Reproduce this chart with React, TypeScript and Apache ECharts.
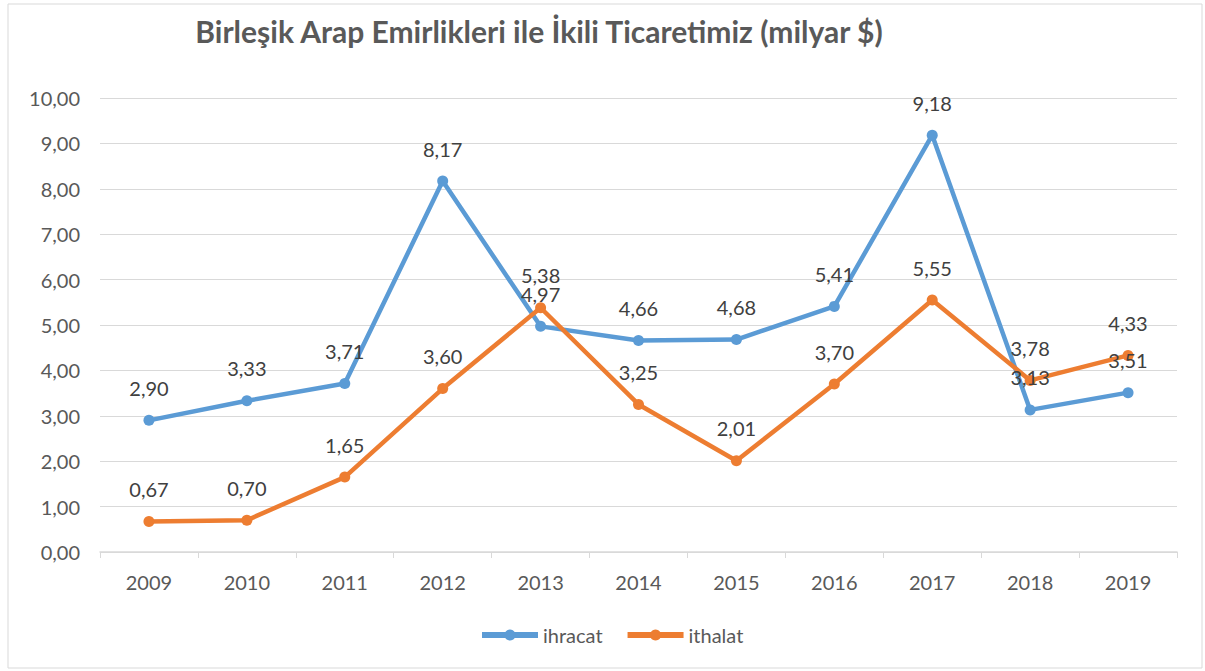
import React, { useEffect, useRef } from "react";
import * as echarts from "echarts";

const years = ["2009", "2010", "2011", "2012", "2013", "2014", "2015", "2016", "2017", "2018", "2019"];
const ihracat = [2.9, 3.33, 3.71, 8.17, 4.97, 4.66, 4.68, 5.41, 9.18, 3.13, 3.51];
const ithalat = [0.67, 0.7, 1.65, 3.6, 5.38, 3.25, 2.01, 3.7, 5.55, 3.78, 4.33];
const titleText = "Birleşik Arap Emirlikleri ile İkili Ticaretimiz (milyar $)";

const fmt = (v: number) => v.toFixed(2).replace(".", ",");
const FONT = "Lato, 'Open Sans', sans-serif";

export default function App() {
  const ref = useRef<HTMLDivElement>(null);
  useEffect(() => {
    if (!ref.current) return;
    const chart = echarts.init(ref.current, null, { renderer: "svg" });
    const mkSeries = (name: string, data: number[], color: string) => ({
      name,
      type: "line",
      data,
      symbol: "circle",
      symbolSize: 11,
      itemStyle: { color },
      lineStyle: { color, width: 4.5 },
      label: {
        show: true,
        position: "top",
        distance: 17,
        formatter: (p: any) => fmt(p.value),
        color: "#404040",
        fontSize: 20,
        fontFamily: FONT,
      },
    });
    chart.setOption({
      animation: false,
      backgroundColor: "#fff",
      title: {
        text: titleText,
        left: 534,
        top: 11,
        textAlign: "center",
        textStyle: { color: "#595959", fontSize: 30, fontWeight: "bold", fontFamily: FONT },
      },
      legend: {
        bottom: 21,
        left: 474,
        itemWidth: 56,
        itemHeight: 14,
        itemGap: 22,
        lineStyle: { width: 6 },
        textStyle: { color: "#595959", fontSize: 20, fontFamily: FONT },
        data: ["ihracat", "ithalat"],
      },
      grid: { left: 100, right: 28, top: 98, bottom: 119, containLabel: false },
      xAxis: {
        type: "category",
        data: years,
        boundaryGap: true,
        axisLine: { lineStyle: { color: "#d9d9d9", width: 1.5 } },
        axisTick: { show: true, length: 6, lineStyle: { color: "#d9d9d9" } },
        axisLabel: { color: "#595959", fontSize: 20, fontFamily: FONT, margin: 20 },
      },
      yAxis: {
        type: "value",
        min: 0,
        max: 10,
        interval: 1,
        axisLine: { show: false },
        axisTick: { show: false },
        splitLine: { lineStyle: { color: "#d9d9d9", width: 1 } },
        axisLabel: { color: "#595959", fontSize: 20, fontFamily: FONT, margin: 20, formatter: (v: number) => fmt(v) },
      },
      graphic: [
        {
          type: "rect",
          shape: { x: 8, y: 4, width: 1194, height: 664 },
          style: { fill: "none", stroke: "#d9d9d9", lineWidth: 1 },
          silent: true,
        },
      ],
      series: [mkSeries("ihracat", ihracat, "#5B9BD5"), mkSeries("ithalat", ithalat, "#ED7D31")],
    });
    return () => chart.dispose();
  }, []);
  return <div ref={ref} style={{ position: "fixed", left: 0, top: 0, width: 1205, height: 671 }} />;
}
